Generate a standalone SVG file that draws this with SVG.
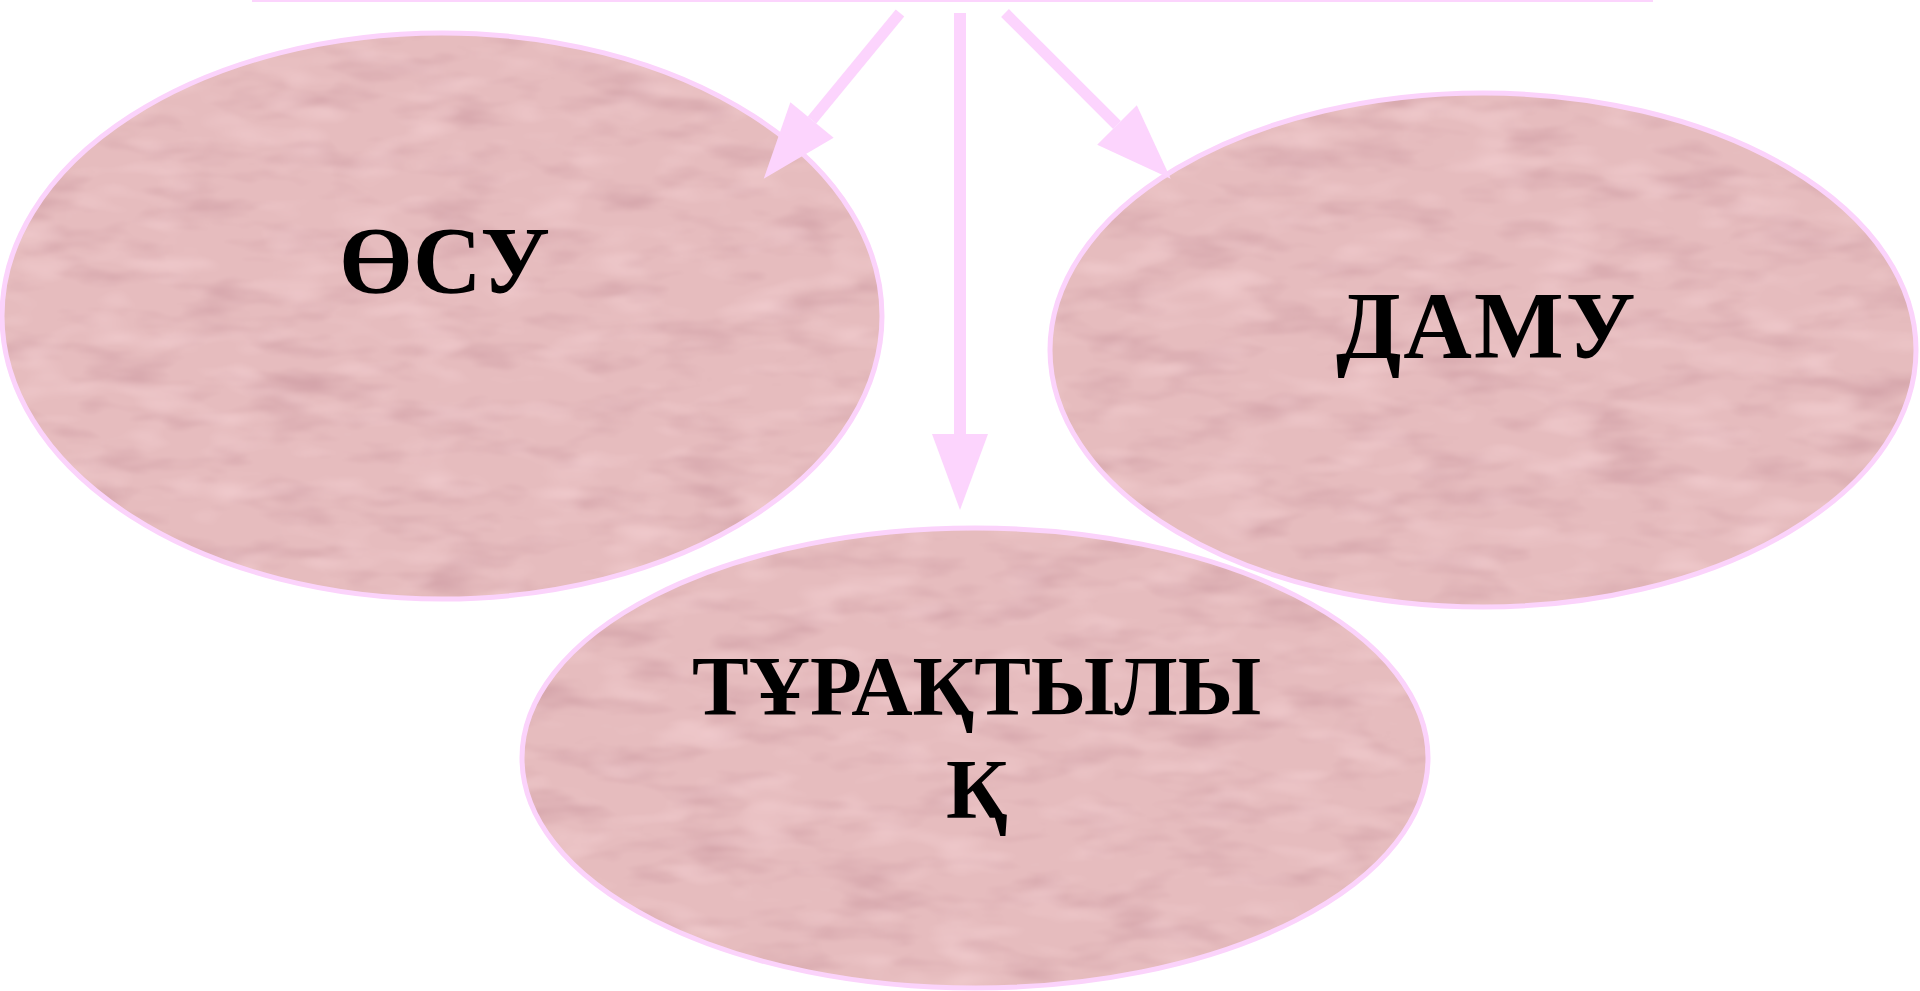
<svg xmlns="http://www.w3.org/2000/svg" width="1920" height="991" viewBox="0 0 1920 991">
<style>
.fill{fill:#E6BCBE;filter:url(#tex)}
.rim{fill:none;stroke:#FBD3FB;stroke-width:5}
.lbl{font-family:"Liberation Serif","Times New Roman",serif;font-weight:bold;fill:#000}
.con{stroke:#FCD4FD;fill:none}
</style>
<defs>
<filter id="tex" x="0" y="0" width="1" height="1" color-interpolation-filters="sRGB">
<feTurbulence type="fractalNoise" baseFrequency="0.012 0.035" numOctaves="3" seed="7" result="n"/>
<feColorMatrix in="n" type="matrix" values="0 0 0 0 0.80  0 0 0 0 0.60  0 0 0 0 0.63  1.6 0 0 0 -0.78" result="dark"/>
<feTurbulence type="fractalNoise" baseFrequency="0.015 0.04" numOctaves="2" seed="19" result="n2"/>
<feColorMatrix in="n2" type="matrix" values="0 0 0 0 0.96  0 0 0 0 0.82  0 0 0 0 0.83  1.6 0 0 0 -0.8" result="light"/>
<feMerge result="m"><feMergeNode in="SourceGraphic"/><feMergeNode in="dark"/><feMergeNode in="light"/></feMerge>
<feGaussianBlur in="m" stdDeviation="1.2" result="b"/>
<feComposite in="b" in2="SourceGraphic" operator="in"/>
</filter>
<marker id="ah" markerUnits="userSpaceOnUse" markerWidth="78" markerHeight="58" refX="0" refY="28" orient="auto" overflow="visible">
<path d="M0,0 L76,28 L0,56 Z" fill="#FCD4FD"/>
</marker>
</defs>
<rect width="1920" height="991" fill="#fff"/>
<g id="node-osu">
<ellipse class="fill" cx="442" cy="316" rx="440" ry="283"/>
<ellipse class="rim" cx="442" cy="316" rx="440" ry="283"/>
<text class="lbl" x="339" y="293" font-size="95">ӨСУ</text>
</g>
<g id="node-damu">
<ellipse class="fill" cx="1483" cy="350" rx="433" ry="257"/>
<ellipse class="rim" cx="1483" cy="350" rx="433" ry="257"/>
<text class="lbl" x="1336" y="358" font-size="95" letter-spacing="2">ДАМУ</text>
</g>
<g id="node-turaqtylyq">
<ellipse class="fill" cx="975" cy="758" rx="453" ry="230"/>
<ellipse class="rim" cx="975" cy="758" rx="453" ry="230"/>
<text class="lbl" x="692" y="715" font-size="85">ТҰРАҚТЫЛЫ</text>
<text class="lbl" x="946" y="818" font-size="85">Қ</text>
</g>
<g id="connectors">
<rect x="252" y="0" width="1401" height="2" fill="#FCD4FD"/>
<line class="con" x1="900" y1="13" x2="812" y2="120" stroke-width="11" marker-end="url(#ah)"/>
<line class="con" x1="960" y1="13" x2="960" y2="434" stroke-width="12" marker-end="url(#ah)"/>
<line class="con" x1="1005" y1="13" x2="1117" y2="125" stroke-width="11" marker-end="url(#ah)"/>
</g>
</svg>
